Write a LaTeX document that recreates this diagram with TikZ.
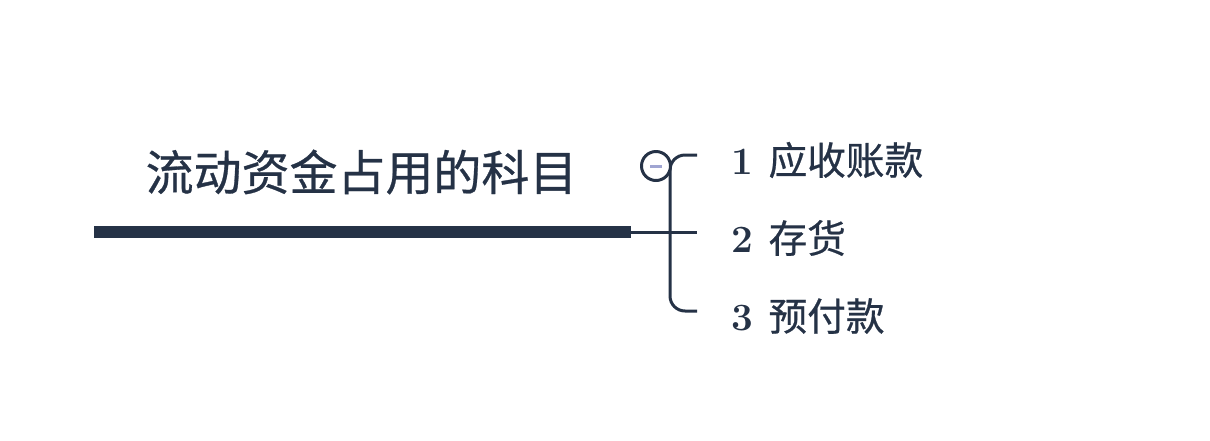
\documentclass[tikz,border=0pt]{standalone}
\usepackage{fontspec}
\newfontfamily\cjk[FakeBold=0.6]{Noto Sans CJK SC}
\definecolor{ink}{RGB}{37,50,70}
\definecolor{foldmark}{RGB}{160,165,210}

\begin{document}
\begin{tikzpicture}[x=0.02cm, y=-0.02cm,
    branch/.style={draw=ink, line width=0.06cm},
    item/.style={anchor=west, inner sep=0pt, text=ink, font=\cjk\fontsize{22}{26}\selectfont}]
                % Canvas
                \useasboundingbox (0,0) rectangle (1210,440);
                
                % Main topic
                \node[inner sep=0pt, text=ink, font=\cjk\fontsize{27.3}{32}\selectfont] (title) at (361.5,172) {流动资金占用的科目};
                \coordinate (barL) at (94,232);
                \coordinate (barR) at (631,232);
                \draw[ink, line width=0.24cm] (barL) -- (barR);
                
                % Bracket
                \coordinate (J) at (670,232);
                \coordinate (T) at (697,155);
                \coordinate (M) at (697,232);
                \coordinate (B) at (697,311);
                \draw[branch] (barR) -- (M);
                \draw[branch, rounded corners=0.3cm] (T) -- (J |- T) -- (J |- B) -- (B);
                
                % Fold button
                \node[circle, draw=ink, line width=0.06cm, fill=white, minimum size=0.58cm, inner sep=0pt] (fold) at (656,166) {};
                \draw[foldmark, line width=0.06cm] ([xshift=-0.12cm]fold.center) -- ([xshift=0.12cm]fold.center);
                
                % Subtopics
                \node[item] (acc) at (731,160) {{\fontspec{Latin Modern Roman}\bfseries 1}\hspace{0.4em}应收账款};
                \node[item] (inv) at (731,238) {{\fontspec{Latin Modern Roman}\bfseries 2}\hspace{0.4em}存货};
                \node[item] (pre) at (731,316) {{\fontspec{Latin Modern Roman}\bfseries 3}\hspace{0.4em}预付款};
            \end{tikzpicture}
\end{document}
